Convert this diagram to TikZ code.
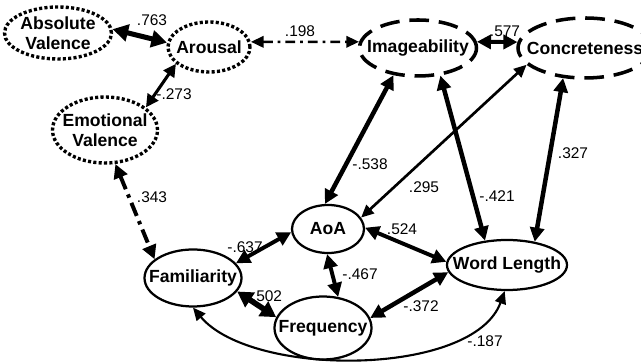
\documentclass[tikz,border=0pt]{standalone}
\usepackage{fontspec}
\setmainfont{Liberation Sans}
\usetikzlibrary{shapes.geometric,arrows.meta}
\begin{document}
\begin{tikzpicture}[
    >={Triangle[length=10pt,width=10pt]},
    var/.style={ellipse, inner xsep=-0.35cm, inner ysep=-2pt, align=center,
      font=\bfseries\fontsize{12.5}{14.5}\selectfont},
    solidvar/.style={var, draw, line width=1.6pt},
    dotvar/.style={var, draw, line width=2.4pt, dash pattern=on 2.2pt off 1.6pt},
    dashvar/.style={var, draw, line width=2.5pt, dash pattern=on 14pt off 7pt},
    lbl/.style={font=\fontsize{11}{13}\selectfont, inner sep=0pt},
    link/.style={<->, line width=#1},
  ]
  \useasboundingbox (0,0) rectangle (16.025,9.075);
  \node[dotvar, minimum width=2.675cm, minimum height=1.3cm] (absval) at (1.45,8.25) {Absolute\\Valence};
  \node[dotvar, minimum width=2.05cm, minimum height=1.25cm] (arousal) at (5.225,7.9) {Arousal};
  \node[dotvar, minimum width=2.625cm, minimum height=1.65cm] (emoval) at (2.625,5.825) {Emotional\\Valence};
  \node[dashvar, minimum width=2.925cm, minimum height=1.4cm] (imag) at (10.45,7.875) {Imageability};
  \node[dashvar, minimum width=3.35cm, minimum height=1.5cm] (concr) at (14.625,7.875) {Concreteness};
  \node[solidvar, minimum width=1.8cm, minimum height=1.2cm] (aoa) at (8.2,3.35) {AoA};
  \node[solidvar, minimum width=2.425cm, minimum height=1.425cm] (famil) at (4.825,2.125) {Familiarity};
  \node[solidvar, minimum width=2.425cm, minimum height=1.575cm] (freq) at (8.075,0.875) {Frequency};
  \node[solidvar, minimum width=3.0cm, minimum height=1.25cm] (wordlen) at (12.675,2.45) {Word Length};

  \draw[link=3.6pt, >={Triangle[length=11pt,width=12pt]}] (absval.4) -- (arousal.174);
  \draw[link=2.2pt, >={Triangle[length=9pt,width=9pt]}] (arousal.207) -- (emoval.29);
  \draw[link=2.8pt, dash pattern=on 10pt off 4pt on 2.5pt off 4pt] (emoval.287) -- (famil.154);
  \draw[link=1.8pt, dash pattern=on 7pt off 3.5pt on 2pt off 3.5pt, >={Triangle[length=9pt,width=8pt]}] (arousal.7) -- (imag.174);
  \draw[link=2.8pt] (imag.6) -- (concr.175);
  \draw[link=3.2pt] (aoa.97) -- (imag.228);
  \draw[link=1.9pt, >={Triangle[length=9pt,width=8pt]}] (concr.196) -- (aoa.19);
  \draw[link=3.2pt] (imag.309) -- (wordlen.132);
  \draw[link=3.2pt] (concr.234) -- (wordlen.40);
  \draw[link=2.8pt] (aoa.2) -- (wordlen.177);
  \draw[link=2.8pt] (aoa.185) -- (famil.19);
  \draw[link=2.8pt] (aoa.268) -- (freq.64);
  \draw[link=4pt, >={Triangle[length=11pt,width=12pt]}] (famil.343) -- (freq.167);
  \draw[link=3.2pt] (freq.12) -- (wordlen.187);
  \draw[link=1.5pt, >={Triangle[length=9pt,width=8pt]}] (famil.270) to[out=-50, in=-110, looseness=0.75] (wordlen.265);

  \node[lbl] (l763) at (3.8,8.575) {.763};
  \node[lbl] (l273) at (4.35,6.725) {-.273};
  \node[lbl] (l198) at (7.5,8.3) {.198};
  \node[lbl] (l577) at (12.625,8.3) {.577};
  \node[lbl] (l538) at (9.25,4.975) {-.538};
  \node[lbl] (l295) at (10.6,4.4) {.295};
  \node[lbl] (l327) at (14.325,5.25) {.327};
  \node[lbl] (l421) at (12.425,4.175) {-.421};
  \node[lbl] (l524) at (10.05,3.35) {.524};
  \node[lbl] (l637) at (6.125,2.9) {-.637};
  \node[lbl] (l467) at (9.0,2.225) {-.467};
  \node[lbl] (l502) at (6.675,1.675) {.502};
  \node[lbl] (l372) at (10.525,1.425) {-.372};
  \node[lbl] (l187) at (12.125,0.55) {-.187};
  \node[lbl] (l343) at (3.8,4.15) {.343};
\end{tikzpicture}
\end{document}
